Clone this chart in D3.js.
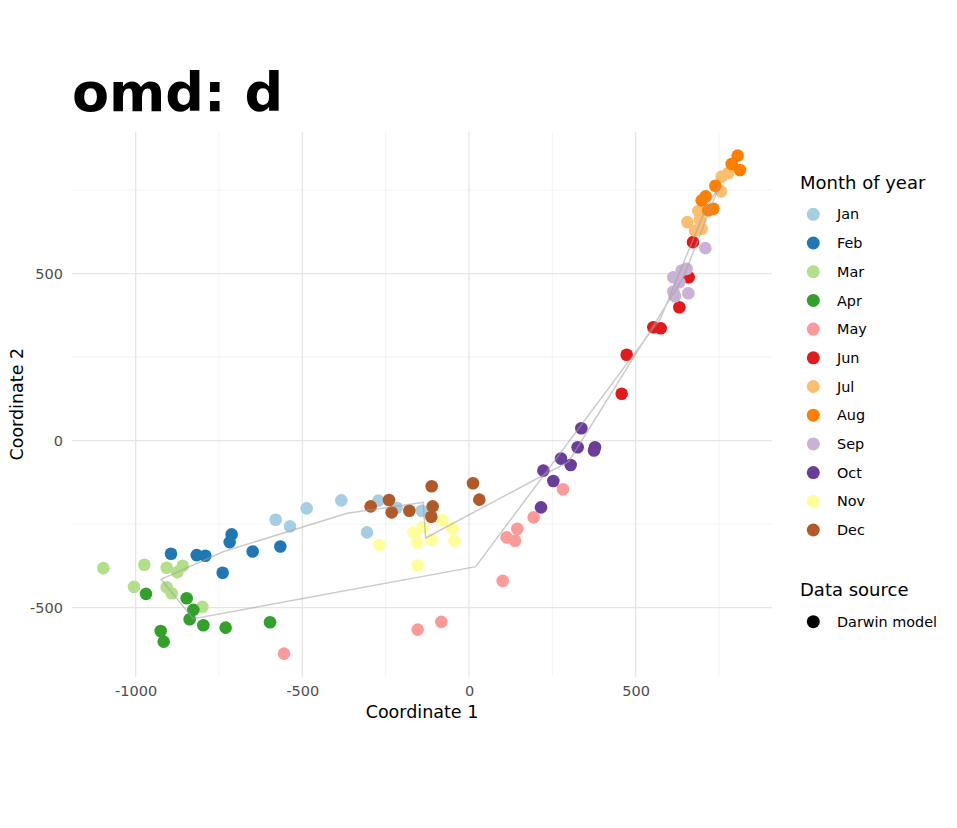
<!DOCTYPE html>
<html><head><meta charset="utf-8">
<script src="https://cdn.jsdelivr.net/npm/d3@7"></script>
<style>body{margin:0;background:#fff;} svg{display:block;font-family:"DejaVu Sans",sans-serif;}</style>
</head><body><svg id="c" width="957" height="828"></svg>
<script>
const months = ["Jan","Feb","Mar","Apr","May","Jun","Jul","Aug","Sep","Oct","Nov","Dec"];
const monthColors = ["#A6CEE3","#1F78B4","#B2DF8A","#33A02C","#FB9A99","#E31A1C","#FDBF6F","#FF7F00","#CAB2D6","#6A3D9A","#FFFF99","#B15928"];
const xTicks = [-1000,-500,0,500];
const yTicks = [-500,0,500];
const xMinor = [-750,-250,250,750];
const yMinor = [-250,250,750];

const jan = [[-580,-237],[-537,-257],[-487,-203],[-383,-179],[-306,-275],[-272,-180],[-217,-201],[-142,-210]];
const feb = [[-894,-339],[-817,-343],[-791,-345],[-739,-396],[-718,-304],[-712,-281],[-649,-332],[-566,-317]];
const mar = [[-1097,-382],[-974,-372],[-1005,-438],[-907,-381],[-859,-375],[-875,-394],[-907,-439],[-892,-457],[-800,-498]];
const apr = [[-969,-459],[-847,-472],[-827,-507],[-838,-535],[-797,-553],[-730,-560],[-925,-570],[-916,-602],[-597,-544]];
const may = [[-555,-638],[-154,-566],[-83,-543],[101,-420],[113,-290],[138,-300],[145,-264],[194,-230],[282,-146]];
const jun = [[672,594],[659,489],[631,399],[553,339],[575,336],[473,257],[458,140]];
const jul = [[778,801],[758,790],[756,746],[688,687],[655,654],[693,662],[698,634],[678,629]];
const aug = [[806,853],[788,828],[813,810],[739,763],[710,731],[698,719],[733,694],[718,689]];
const sep = [[709,576],[613,489],[638,509],[653,514],[631,474],[613,446],[658,441],[618,432]];
const oct = [[337,37],[326,-20],[378,-20],[375,-30],[276,-54],[305,-73],[223,-90],[253,-121],[216,-200]];
const nov = [[-269,-312],[-167,-275],[-139,-260],[-156,-305],[-112,-297],[-80,-239],[-50,-263],[-44,-300],[-154,-374]];
const dec = [[-295,-197],[-240,-178],[-232,-215],[-179,-210],[-112,-137],[-109,-197],[-113,-228],[12,-128],[31,-177]];
const monthData = [jan,feb,mar,apr,may,jun,jul,aug,sep,oct,nov,dec];
const sourceLabel = "Darwin model";

const svg = d3.select("#c");
const L = 72, R = 772, T = 131.7, B = 676.7;
const x = d3.scaleLinear().domain([-1191, 909]).range([L, R]);
const y = d3.scaleLinear().domain([-707, 924.6]).range([B, T]);
const color = d3.scaleOrdinal().domain(months).range(monthColors);

// grid
const g = svg.append("g");
g.selectAll(".gyMinor").data(yMinor).join("line")
  .attr("x1", L).attr("x2", R).attr("y1", d=>y(d)).attr("y2", d=>y(d))
  .attr("stroke", "#ebebeb").attr("stroke-width", 0.6);
g.selectAll(".gxMinor").data(xMinor).join("line")
  .attr("y1", T).attr("y2", B).attr("x1", d=>x(d)).attr("x2", d=>x(d))
  .attr("stroke", "#ebebeb").attr("stroke-width", 0.6);
g.selectAll(".gy").data(yTicks).join("line")
  .attr("x1", L).attr("x2", R).attr("y1", d=>y(d)).attr("y2", d=>y(d))
  .attr("stroke", "#e6e6e6").attr("stroke-width", 1.3);
g.selectAll(".gx").data(xTicks).join("line")
  .attr("y1", T).attr("y2", B).attr("x1", d=>x(d)).attr("x2", d=>x(d))
  .attr("stroke", "#e6e6e6").attr("stroke-width", 1.3);

// axes
const xa = svg.append("g").attr("transform", `translate(0,${B})`)
  .call(d3.axisBottom(x).tickValues(xTicks).tickSize(0).tickPadding(9).tickFormat(d=>String(d)));
xa.select(".domain").remove();
xa.selectAll("text").attr("fill","#4d4d4d").style("font-size","14.5px").style("font-family","DejaVu Sans");
const ya = svg.append("g").attr("transform", `translate(${L},0)`)
  .call(d3.axisLeft(y).tickValues(yTicks).tickSize(0).tickPadding(9).tickFormat(d=>String(d)));
ya.select(".domain").remove();
ya.selectAll("text").attr("fill","#4d4d4d").style("font-size","14.5px").style("font-family","DejaVu Sans");

// points
const pts = [];
monthData.forEach((arr, i) => arr.forEach(p => pts.push({m: months[i], x: p[0], y: p[1]})));
svg.append("g").selectAll("circle").data(pts).join("circle")
  .attr("cx", d=>x(d.x)).attr("cy", d=>y(d.y)).attr("r", 6.3)
  .attr("fill", d=>color(d.m));

// monthly mean loop
const means = monthData.map(arr => [d3.mean(arr, p=>p[0]), d3.mean(arr, p=>p[1])]);
const line = d3.line().x(d=>x(d[0])).y(d=>y(d[1]));
svg.append("path").attr("d", line(means.concat([means[0]])))
  .attr("fill","none").attr("stroke","#a0a0a0").attr("stroke-opacity",0.55).attr("stroke-width",1.5);

// title
svg.append("text").attr("x", 72).attr("y", 111).text("omd: d")
  .style("font-size","54px").style("font-weight","bold").attr("fill","#000");

// axis titles
svg.append("text").attr("x", (L+R)/2).attr("y", 718).attr("text-anchor","middle")
  .style("font-size","17.5px").attr("fill","#000").text("Coordinate 1");
svg.append("text").attr("transform", `translate(23,${(T+B)/2}) rotate(-90)`).attr("text-anchor","middle")
  .style("font-size","17.5px").attr("fill","#000").text("Coordinate 2");

// legend
const lg = svg.append("g");
lg.append("text").attr("x", 800).attr("y", 189).style("font-size","18px").attr("fill","#000").text("Month of year");
const items = lg.selectAll(".it").data(months).join("g")
  .attr("transform", (d,i)=>`translate(0,${214.3 + i*28.7})`);
items.append("circle").attr("cx", 813.3).attr("cy", 0).attr("r", 6.5).attr("fill", d=>color(d));
items.append("text").attr("x", 837).attr("y", 0).attr("dy","0.36em").style("font-size","14.4px").attr("fill","#000").text(d=>d);
lg.append("text").attr("x", 800).attr("y", 596).style("font-size","18px").attr("fill","#000").text("Data source");
lg.append("circle").attr("cx", 813.3).attr("cy", 621.7).attr("r", 6.5).attr("fill","#000");
lg.append("text").attr("x", 837).attr("y", 621.7).attr("dy","0.36em").style("font-size","14.4px").attr("fill","#000").text(sourceLabel);
</script></body></html>
